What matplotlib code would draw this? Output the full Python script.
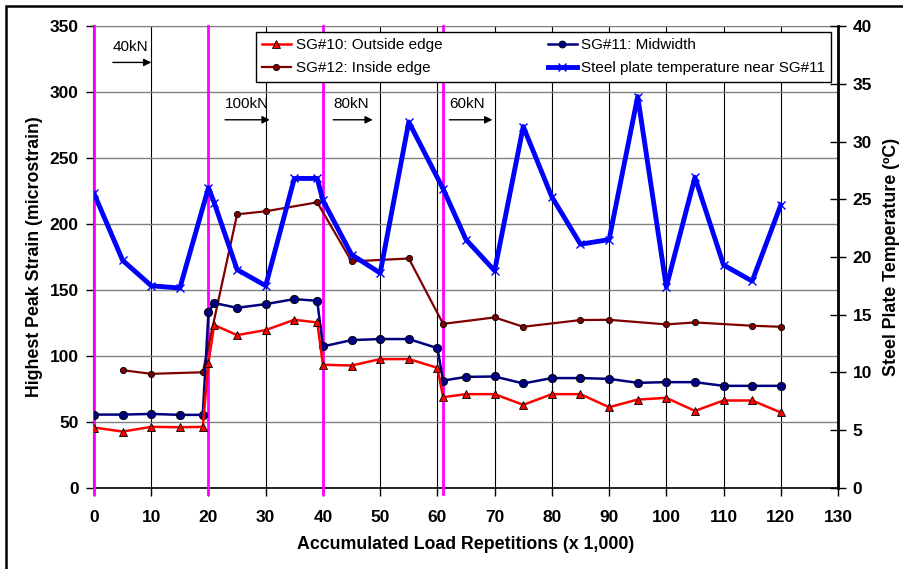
import matplotlib.pyplot as plt
from matplotlib.lines import Line2D

plt.rcParams['font.family'] = ['Liberation Sans', 'DejaVu Sans']

# Strain gauge readings (microstrain) vs accumulated load repetitions (x 1,000)
reps_sg10_11 = [0, 5, 10, 15, 19, 20, 21, 25, 30, 35, 39, 40, 45, 50, 55, 60, 61,
                65, 70, 75, 80, 85, 90, 95, 100, 105, 110, 115, 120]
sg10_outside = [45.6, 42.5, 46.1, 45.8, 46.1, 94.9, 123.3, 115.7, 119.5, 127.3, 125.3,
                93.2, 92.6, 97.5, 97.5, 90.9, 68.6, 70.9, 70.9, 62.8, 70.9, 70.9,
                61.0, 66.8, 68.1, 58.2, 66.1, 66.1, 57.0]
sg11_mid = [55.4, 55.4, 55.9, 55.2, 55.2, 133.3, 140.0, 136.4, 139.2, 143.0, 141.7,
            107.1, 111.9, 112.7, 112.7, 105.8, 81.2, 84.0, 84.3, 79.0, 83.1, 83.1,
            82.5, 79.5, 80.0, 80.0, 77.2, 77.2, 77.2]

reps_sg12 = [5, 10, 19, 25, 30, 39, 45, 55, 61, 70, 75, 85, 90, 100, 105, 115, 120]
sg12_inside = [89.1, 86.3, 87.5, 207.3, 209.6, 216.4, 171.6, 173.8, 124.2, 129.1,
               122.0, 127.1, 127.3, 123.8, 125.3, 122.8, 122.0]

# Steel plate temperature (deg C)
reps_temp = [0, 5, 10, 15, 20, 21, 25, 30, 35, 39, 40, 45, 50, 55, 61, 65, 70, 75,
             80, 85, 90, 95, 100, 105, 110, 115, 120]
plate_temp = [25.5, 19.7, 17.5, 17.3, 26.0, 24.7, 18.9, 17.5, 26.8, 26.8, 24.9, 20.2,
              18.6, 31.7, 25.9, 21.5, 18.8, 31.3, 25.2, 21.1, 21.5, 33.9, 17.4, 26.9,
              19.3, 17.9, 24.5]

# Load level changes
load_changes = [0, 20, 40, 61]
load_labels = ['40kN', '100kN', '80kN', '60kN']
load_start = [3.3, 22.9, 41.8, 62.1]
load_end = [10.0, 30.7, 48.7, 69.6]

fig = plt.figure(figsize=(9.04, 5.69), dpi=100)
ax = fig.add_axes([0.104, 0.143, 0.823, 0.811])
ax2 = ax.twinx()

# frame around the whole figure (left and top edges visible)
fig.add_artist(plt.Rectangle((6.5 / 904, -0.05), 1.2, 1.05 - 5.5 / 569,
                             transform=fig.transFigure, fill=False,
                             edgecolor='black', lw=1.8))

ax.set_xlim(0, 130)
ax.set_ylim(0, 350)
ax2.set_ylim(0, 40)
ax.set_xticks(range(0, 131, 10))
ax.set_yticks(range(0, 351, 50))
ax2.set_yticks(range(0, 41, 5))

ax.set_axisbelow(True)
ax.grid(axis='y', color='#808080', lw=1.0)
ax.grid(axis='x', color='black', lw=0.8)

for xc in load_changes:
    ax.axvline(xc, ymin=-0.013, ymax=1, color='#FF00FF', lw=2, zorder=2.6, clip_on=False)

ax.plot(reps_sg12, sg12_inside, color='#800000', lw=1.6, marker='o', ms=4.5,
        mfc='#800000', mec='black', mew=0.6, zorder=3)
ax.plot(reps_sg10_11, sg11_mid, color='#000080', lw=1.8, marker='o', ms=6,
        mfc='#000080', mec='black', mew=0.6, zorder=3)
ax.plot(reps_sg10_11, sg10_outside, color='#FF0000', lw=1.8, marker='^', ms=6,
        mfc='#FF0000', mec='black', mew=0.6, zorder=3)
ax2.plot(reps_temp, plate_temp, color='#0000FF', lw=3.5, marker='x', ms=6, mew=1,
         zorder=3)

for lbl, x0, x1 in zip(load_labels, load_start, load_end):
    ax.text(x0, 291 if lbl != '40kN' else 334, lbl, fontsize=11, va='center', ha='left')
    ay = 279 if lbl != '40kN' else 322.5
    ax.annotate('', xy=(x1, ay), xytext=(x0, ay),
                arrowprops=dict(arrowstyle='-|>', color='black', lw=1, mutation_scale=11,
                                shrinkA=0, shrinkB=0))

ax.tick_params(axis='y', direction='out', length=6, width=1, pad=5)
ax.tick_params(axis='x', direction='out', length=6, width=1, pad=10)
ax2.tick_params(axis='y', direction='inout', length=11, width=1, pad=5)
for t in ax.get_xticklabels() + ax.get_yticklabels() + ax2.get_yticklabels():
    t.set_fontsize(12.5)
    t.set_fontweight('bold')

ax.spines['top'].set_color('#808080')
ax.spines['left'].set_linewidth(1.5)
ax.spines['bottom'].set_linewidth(1.2)
ax.spines['right'].set_visible(False)
for side in ('left', 'top', 'bottom'):
    ax2.spines[side].set_visible(False)
ax2.spines['right'].set_linewidth(2)

ax.set_xlabel('Accumulated Load Repetitions (x 1,000)', fontsize=12.8,
              fontweight='bold', labelpad=8)
ax.set_ylabel('Highest Peak Strain (microstrain)', fontsize=12.8,
              fontweight='bold', labelpad=5)
ax2.set_ylabel('Steel Plate Temperature (ºC)', fontsize=12.8, fontweight='bold',
               labelpad=8)

handles = [
    Line2D([], [], color='#FF0000', lw=1.8, marker='^', ms=6, mfc='#FF0000', mec='black', mew=0.6),
    Line2D([], [], color='#800000', lw=1.6, marker='o', ms=4.5, mfc='#800000', mec='black', mew=0.6),
    Line2D([], [], color='#000080', lw=1.8, marker='o', ms=5, mfc='#000080', mec='black', mew=0.6),
    Line2D([], [], color='#0000FF', lw=3.5, marker='x', ms=6, mew=1),
]
labels = ['SG#10: Outside edge', 'SG#12: Inside edge', 'SG#11: Midwidth',
          'Steel plate temperature near SG#11']
leg = ax2.legend(handles, labels, ncol=2, loc='upper right',
                 bbox_to_anchor=(0.991, 0.987), fontsize=11, numpoints=1,
                 handlelength=1.9, handletextpad=0.3, columnspacing=6.9,
                 borderpad=0.4, labelspacing=0.6, fancybox=False,
                 framealpha=1, edgecolor='black', borderaxespad=0)
leg.get_frame().set_linewidth(1.0)

fig.savefig('out.png', dpi=100)
